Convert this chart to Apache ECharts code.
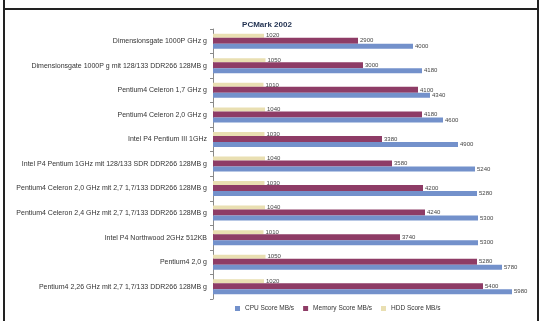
<!DOCTYPE html>
<html>
<head>
<meta charset="utf-8">
<script src="https://cdn.jsdelivr.net/npm/echarts@6/dist/echarts.min.js"></script>
<style>
  html, body { margin: 0; padding: 0; background: #fff; }
  #chart { width: 542px; height: 321px; }
</style>
</head>
<body>
<div id="chart"></div>
<script>
// Systems, listed bottom to top (category axis grows upward)
const systems = [
  'Pentium4 2,26 GHz mit 2,7 1,7/133 DDR266 128MB g',
  'Pentium4 2,0 g',
  'Intel P4 Northwood 2GHz 512KB',
  'Pentium4 Celeron 2,4 GHz mit 2,7 1,7/133 DDR266 128MB g',
  'Pentium4 Celeron 2,0 GHz mit 2,7 1,7/133 DDR266 128MB g',
  'Intel P4 Pentium 1GHz mit 128/133 SDR DDR266 128MB g',
  'Intel P4 Pentium III 1GHz',
  'Pentium4 Celeron 2,0 GHz g',
  'Pentium4 Celeron 1,7 GHz g',
  'Dimensionsgate 1000P g mit 128/133 DDR266 128MB g',
  'Dimensionsgate 1000P GHz g'
];

const seriesNames = ['CPU Score MB/s', 'Memory Score MB/s', 'HDD Score MB/s'];

const cpuScore    = [5980, 5780, 5300, 5300, 5280, 5240, 4900, 4600, 4340, 4180, 4000];
const memoryScore = [5400, 5280, 3740, 4240, 4200, 3580, 3380, 4180, 4100, 3000, 2900];
const hddScore    = [1020, 1050, 1010, 1040, 1030, 1040, 1030, 1040, 1010, 1050, 1020];

const colors = { cpu: '#7391cb', memory: '#8e3c66', hdd: '#e9dfb2' };

const chart = echarts.init(document.getElementById('chart'));

const valueLabel = {
  show: true,
  position: 'right',
  distance: 2,
  fontSize: 6,
  color: '#444',
  fontFamily: 'Liberation Sans'
};

chart.setOption({
  animation: false,
  textStyle: { fontFamily: 'Liberation Sans' },
  title: {
    text: 'PCMark 2002',
    left: 262,
    top: 16,
    textAlign: 'center',
    textStyle: { fontSize: 8, fontWeight: 'bold', color: '#1f2f4f' }
  },
  legend: {
    data: seriesNames,
    left: 230,
    top: 300,
    itemWidth: 5,
    itemHeight: 5,
    itemGap: 9,
    textStyle: { fontSize: 6.5, color: '#333' },
    icon: 'rect'
  },
  grid: { left: 213, right: 9, top: 29, bottom: 22, containLabel: false },
  xAxis: {
    type: 'value',
    min: 0,
    max: 6400,
    show: false
  },
  yAxis: {
    type: 'category',
    data: systems,
    axisLine: { lineStyle: { color: '#8a8a8a', width: 1 } },
    axisTick: { show: true, length: 3, lineStyle: { color: '#8a8a8a' } },
    axisLabel: { fontSize: 7, color: '#333', margin: 6 }
  },
  // within each group the first series sits on top, so HDD goes first
  series: [
    { name: seriesNames[2], type: 'bar', data: hddScore, itemStyle: { color: colors.hdd }, label: valueLabel, barWidth: 4, barGap: '0%' },
    { name: seriesNames[1], type: 'bar', data: memoryScore, itemStyle: { color: colors.memory }, label: valueLabel, barWidth: 6, barGap: '0%' },
    { name: seriesNames[0], type: 'bar', data: cpuScore, itemStyle: { color: colors.cpu }, label: valueLabel, barWidth: 5, barGap: '0%' }
  ],
  graphic: [
    { type: 'line', shape: { x1: 4, y1: 0, x2: 4, y2: 321 }, style: { stroke: '#222', lineWidth: 2 } },
    { type: 'line', shape: { x1: 538, y1: 0, x2: 538, y2: 321 }, style: { stroke: '#222', lineWidth: 2 } },
    { type: 'line', shape: { x1: 4, y1: 9, x2: 538, y2: 9 }, style: { stroke: '#222', lineWidth: 2 } }
  ]
});
</script>
</body>
</html>
